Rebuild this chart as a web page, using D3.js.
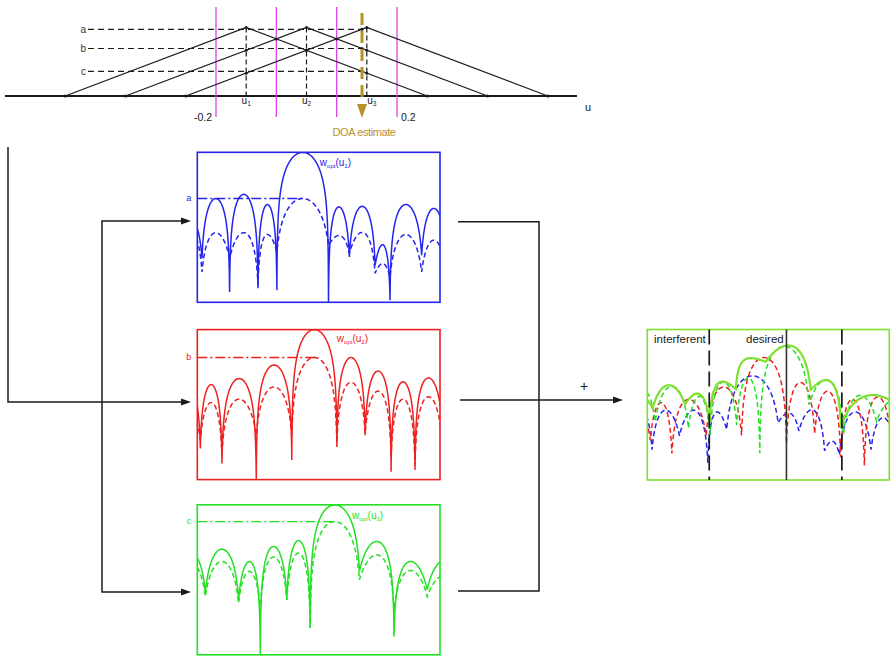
<!DOCTYPE html>
<html><head><meta charset="utf-8">
<script src="https://cdn.jsdelivr.net/npm/d3@7"></script>
<style>
body{margin:0;background:#fff}
svg{display:block;font-family:"Liberation Sans",Arial,sans-serif}
</style>
</head><body>
<svg id="fig" width="891" height="656"></svg>
<script>
// ---------- beam space: steering directions and triangular interpolation ----------
const steerU = [-0.1333, 0, 0.1333];              // u1, u2, u3
const triHalfWidth = 0.4;
const sectorEdgesU = [-0.2, -0.0667, 0.0667, 0.2];  // magenta sector boundaries
const doaEstimate = 0.1227;
const levelNames = ["a", "b", "c"];
const axisTicks = [-0.2, 0.2];
const axisTickText = ["-0.2", "0.2"];

// ---------- beampatterns: null positions (u) and lobe levels (dB) ----------
// panel a : w_opt(u1)
const aNullsU      = [-1.156, -0.961, -0.734, -0.500, -0.344, 0.081, 0.253, 0.465, 0.588, 0.849, 1.049];
const aSolidNullDb = [-35.3, -35.3, -46.6, -45.3, -46.0, -50.7, -34.9, -37.7, -49.3, -34.3, -34.3];
const aSolidPeakDb = [-22.0, -15.4, -14.0, -17.4, 0.0, -18.2, -18.0, -30.8, -17.4, -18.7];
const aDashNullDb  = [-40.0, -39.9, -35.3, -44.3, -33.2, -31.0, -33.7, -40.3, -41.6, -39.9, -40.0];
const aDashPeakDb  = [-26.0, -26.8, -26.8, -27.4, -15.4, -27.7, -26.7, -37.1, -27.4, -29.3];
// panel b : w_opt(u2)
const bNullsU      = [-1.173, -0.975, -0.797, -0.514, -0.221, 0.150, 0.383, 0.597, 0.794, 1.016];
const bSolidNullDb = [-36.8, -39.6, -44.6, -50.5, -43.5, -39.1, -35.2, -47.4, -46.8, -30.2];
const bSolidPeakDb = [-18.5, -18.3, -16.3, -11.8, 0.0, -9.3, -13.8, -17.4, -16.1];
const bDashNullDb  = [-36.8, -36.8, -41.2, -35.2, -35.2, -37.8, -34.6, -42.4, -45.2, -36.8];
const bDashPeakDb  = [-26.8, -24.3, -23.2, -19.1, -9.3, -17.6, -20.5, -23.2, -22.4];
// panel c : w_opt(u3)
const cNullsU      = [-1.140, -0.934, -0.660, -0.481, -0.262, -0.070, 0.336, 0.621, 0.895, 1.206];
const cSolidNullDb = [-28.3, -29.4, -31.7, -50.5, -31.7, -41.1, -22.2, -43.9, -28.3, -28.3];
const cSolidPeakDb = [-16.7, -14.8, -18.9, -13.9, -11.9, 0.0, -12.2, -18.9, -18.3];
const cDashNullDb  = [-30.3, -30.6, -32.8, -35.0, -31.7, -41.1, -25.0, -35.0, -30.6, -30.3];
const cDashPeakDb  = [-20.0, -18.9, -22.2, -17.4, -16.1, -5.6, -16.7, -21.9, -23.3];
// weighted levels a, b, c (dB) shown as dash-dot lines
const panelLevelDb = [-15.4, -9.3, -5.6];
// combined (interpolated) beampattern envelope
const sumNullsU  = [-1.141, -0.956, -0.688, -0.486, -0.268, -0.021, 0.350, 0.602, 1.125];
const sumNullDb  = [-25.2, -26.2, -24.8, -30.8, -19.8, -10.7, -20.0, -32.8, -27.5];
const sumPeakDb  = [-22.5, -18.5, -21.3, -17.3, -9.5, -5.3, -16.8, -21.8];
// sector markers in the combined pattern
const interfererEdgesU = [-0.488, 0.608];
const desiredU = 0.150;

// ---------- colours ----------
const BLUE = "#2424ee", RED = "#ee2020", GREEN = "#22e022", LIME = "#7fe030",
      GOLD = "#b8912b", MAGENTA = "#e040ec", INK = "#1a1a1a";

const svg = d3.select("#fig");

// ---------- top: triangular interpolation functions ----------
const xTop = d3.scaleLinear([-0.2, 0.2], [216, 397]);
const yTop = d3.scaleLinear([0, 1], [96, 27.5]);
const tri = (u0, u) => Math.max(0, 1 - Math.abs(u - u0) / triHalfWidth);
const topG = svg.append("g");

topG.append("line").attr("x1", 5).attr("x2", 577).attr("y1", yTop(0)).attr("y2", yTop(0))
  .attr("stroke", INK).attr("stroke-width", 2);

topG.selectAll(".sector").data(sectorEdgesU).join("line")
  .attr("x1", d => xTop(d)).attr("x2", d => xTop(d)).attr("y1", 7).attr("y2", 117)
  .attr("stroke", MAGENTA).attr("stroke-width", 1.3);

const triLine = d3.line().x(d => xTop(d[0])).y(d => yTop(d[1]));
topG.selectAll(".tri").data(steerU).join("path")
  .attr("d", u => triLine([[u - triHalfWidth, 0], [u, 1], [u + triHalfWidth, 0]]))
  .attr("fill", "none").attr("stroke", INK).attr("stroke-width", 1.2);

topG.selectAll(".steer").data(steerU).join("line")
  .attr("x1", d => xTop(d)).attr("x2", d => xTop(d)).attr("y1", yTop(1)).attr("y2", yTop(0))
  .attr("stroke", INK).attr("stroke-width", 1.2).attr("stroke-dasharray", "5,3");

// weights seen at the DOA estimate, largest first
const doaWeights = steerU.map(u => tri(u, doaEstimate)).sort((p, q) => q - p);
topG.selectAll(".lvl").data(doaWeights).join("line")
  .attr("x1", 88).attr("x2", xTop(doaEstimate)).attr("y1", d => yTop(d)).attr("y2", d => yTop(d))
  .attr("stroke", INK).attr("stroke-width", 1.2).attr("stroke-dasharray", "6,4");
topG.selectAll(".lvlName").data(doaWeights).join("text")
  .attr("x", 86).attr("y", d => yTop(d)).attr("dy", "0.33em").attr("text-anchor", "end")
  .attr("font-size", 10).attr("fill", "#333").text((d, i) => levelNames[i]);

// dots at vertices, crossings and sample points
const dots = [];
steerU.forEach(u => { dots.push([u - triHalfWidth, 0], [u, 1], [u + triHalfWidth, 0]); });
for (let i = 0; i < steerU.length; i++) for (let j = i + 1; j < steerU.length; j++) {
  const m = (steerU[i] + steerU[j]) / 2; dots.push([m, tri(steerU[i], m)]);
}
steerU.forEach(s => steerU.forEach(u => { if (u !== s) dots.push([s, tri(u, s)]); }));
steerU.forEach(u => dots.push([doaEstimate, tri(u, doaEstimate)]));
topG.selectAll(".dot").data(dots).join("circle")
  .attr("cx", d => xTop(d[0])).attr("cy", d => yTop(d[1])).attr("r", 1.5).attr("fill", INK);

// DOA estimate arrow
const xd = xTop(doaEstimate);
topG.append("line").attr("x1", xd).attr("x2", xd).attr("y1", 13).attr("y2", 103)
  .attr("stroke", GOLD).attr("stroke-width", 3).attr("stroke-dasharray", "12,6");
topG.append("path").attr("d", `M${xd - 5},104 L${xd + 5},104 L${xd},118 Z`).attr("fill", GOLD);
topG.append("text").attr("x", xd + 2).attr("y", 136).attr("text-anchor", "middle")
  .attr("font-size", 11).attr("letter-spacing", "-0.4").attr("fill", GOLD).text("DOA estimate");

// axis labels
topG.selectAll(".tick").data(axisTicks).join("text")
  .attr("x", (d, i) => xTop(d) + (i === 0 ? -4 : 4)).attr("y", 121)
  .attr("text-anchor", (d, i) => i === 0 ? "end" : "start")
  .attr("font-size", 10.5).attr("fill", INK).text((d, i) => axisTickText[i]);
topG.append("text").attr("x", 585).attr("y", 111).attr("font-size", 11).attr("fill", INK).text("u");
steerU.forEach((u, i) => {
  const t = topG.append("text").attr("x", xTop(u) + (i === 2 ? 5 : 0)).attr("y", 104)
    .attr("text-anchor", "middle").attr("font-size", 10).attr("fill", INK);
  t.append("tspan").text("u");
  t.append("tspan").attr("font-size", 6.5).attr("dy", 2).text(i + 1);
});

// ---------- beampattern drawing ----------
function lobePoints(nullsU, nullDb, peakDb, samples = 48) {
  const pts = [];
  for (let i = 0; i < peakDb.length; i++) {
    const u0 = nullsU[i], u1 = nullsU[i + 1], p = peakDb[i];
    const rL = Math.pow(10, (Math.min(nullDb[i], p - 0.05) - p) / 20);
    const rR = Math.pow(10, (Math.min(nullDb[i + 1], p - 0.05) - p) / 20);
    const eL = rL / (1 - rL), eR = rR / (1 - rR);
    for (let k = (i === 0 ? 0 : 1); k <= samples; k++) {
      const t = (1 - Math.cos(Math.PI * k / samples)) / 2;
      const e = eL + (eR - eL) * t;
      pts.push([u0 + (u1 - u0) * t, p + 20 * Math.log10((Math.sin(Math.PI * t) + e) / (1 + e))]);
    }
  }
  return pts;
}

function makeFrame(box, color, id) {
  const x = d3.scaleLinear([-1, 1], [box.x, box.x + box.w]);
  const y = d3.scaleLinear([-50, 0], [box.y + box.h, box.y]);
  svg.append("clipPath").attr("id", id).append("rect")
    .attr("x", box.x).attr("y", box.y).attr("width", box.w).attr("height", box.h);
  const g = svg.append("g");
  const plot = g.append("g").attr("clip-path", `url(#${id})`);
  g.append("rect").attr("x", box.x).attr("y", box.y).attr("width", box.w).attr("height", box.h)
    .attr("fill", "none").attr("stroke", color).attr("stroke-width", 1.6);
  const line = d3.line().x(d => x(d[0])).y(d => y(d[1]));
  return {x, y, g, plot, line};
}

const panels = [
  {box: {x: 197.3, y: 152.3, w: 242.7, h: 150}, color: BLUE, nulls: aNullsU,
   solid: [aSolidNullDb, aSolidPeakDb], dash: [aDashNullDb, aDashPeakDb], labelU: 0.01, labelDy: 13.5},
  {box: {x: 197.3, y: 329.6, w: 242.7, h: 150}, color: RED, nulls: bNullsU,
   solid: [bSolidNullDb, bSolidPeakDb], dash: [bDashNullDb, bDashPeakDb], labelU: 0.15, labelDy: 12},
  {box: {x: 197.3, y: 504.8, w: 242.7, h: 150}, color: GREEN, nulls: cNullsU,
   solid: [cSolidNullDb, cSolidPeakDb], dash: [cDashNullDb, cDashPeakDb], labelU: 0.275, labelDy: 14}
];

panels.forEach((P, i) => {
  const f = makeFrame(P.box, P.color, "clip" + i);
  f.plot.append("path").attr("d", f.line(lobePoints(P.nulls, P.dash[0], P.dash[1])))
    .attr("fill", "none").attr("stroke", P.color).attr("stroke-width", 1.5).attr("stroke-dasharray", "5,3");
  f.plot.append("path").attr("d", f.line(lobePoints(P.nulls, P.solid[0], P.solid[1])))
    .attr("fill", "none").attr("stroke", P.color).attr("stroke-width", 1.5);
  const lv = panelLevelDb[i];
  f.plot.append("line").attr("x1", f.x(-1)).attr("x2", f.x(steerU[i])).attr("y1", f.y(lv)).attr("y2", f.y(lv))
    .attr("stroke", P.color).attr("stroke-width", 1.4).attr("stroke-dasharray", "10,3,2,3");
  f.g.append("text").attr("x", P.box.x - 6).attr("y", f.y(lv)).attr("dy", "0.3em").attr("text-anchor", "end")
    .attr("font-size", 9).attr("fill", P.color).text(levelNames[i]);
  const t = f.g.append("text").attr("x", f.x(P.labelU)).attr("y", P.box.y + P.labelDy)
    .attr("font-size", 10).attr("fill", P.color);
  t.append("tspan").text("w");
  t.append("tspan").attr("font-size", 6).attr("dy", 2).text("opt");
  t.append("tspan").attr("dy", -2).text("(u");
  t.append("tspan").attr("font-size", 6).attr("dy", 2).text(i + 1);
  t.append("tspan").attr("dy", -2).text(")");
});

// ---------- combined pattern ----------
const R = makeFrame({x: 647.3, y: 329.5, w: 242, h: 150.5}, LIME, "clipR");
panels.forEach(P => {
  R.plot.append("path").attr("d", R.line(lobePoints(P.nulls, P.dash[0], P.dash[1])))
    .attr("fill", "none").attr("stroke", P.color).attr("stroke-width", 1.5).attr("stroke-dasharray", "5,3");
});
R.plot.append("path").attr("d", R.line(lobePoints(sumNullsU, sumNullDb, sumPeakDb)))
  .attr("fill", "none").attr("stroke", LIME).attr("stroke-width", 2.2);
R.g.selectAll(".edge").data(interfererEdgesU).join("line")
  .attr("x1", d => R.x(d)).attr("x2", d => R.x(d)).attr("y1", 329.5).attr("y2", 480)
  .attr("stroke", INK).attr("stroke-width", 1.7).attr("stroke-dasharray", "15,6");
R.g.append("line").attr("x1", R.x(desiredU)).attr("x2", R.x(desiredU)).attr("y1", 329.5).attr("y2", 480)
  .attr("stroke", "#333").attr("stroke-width", 1.6);
R.g.append("text").attr("x", 654).attr("y", 343).attr("font-size", 11.5).attr("fill", INK).text("interferent");
R.g.append("text").attr("x", 746).attr("y", 343).attr("font-size", 11.5).attr("fill", INK).text("desired");

// ---------- signal-flow connectors ----------
const wires = svg.append("g").attr("fill", "none").attr("stroke", INK).attr("stroke-width", 1.5);
wires.append("path").attr("d", "M8,147 V402 H182");
wires.append("path").attr("d", "M182,221 H102 V592 H182");
wires.append("path").attr("d", "M458,221.7 H539 V591 H458");
wires.append("path").attr("d", "M460,400 H614");
const heads = [[191, 402], [191, 221], [191, 592], [623, 400]];
svg.selectAll(".head").data(heads).join("path")
  .attr("d", d => `M${d[0]},${d[1]} L${d[0] - 10},${d[1] - 3.5} L${d[0] - 10},${d[1] + 3.5} Z`)
  .attr("fill", INK);
svg.append("text").attr("x", 584).attr("y", 391).attr("text-anchor", "middle")
  .attr("font-size", 14).attr("fill", INK).text("+");
</script>
</body></html>
